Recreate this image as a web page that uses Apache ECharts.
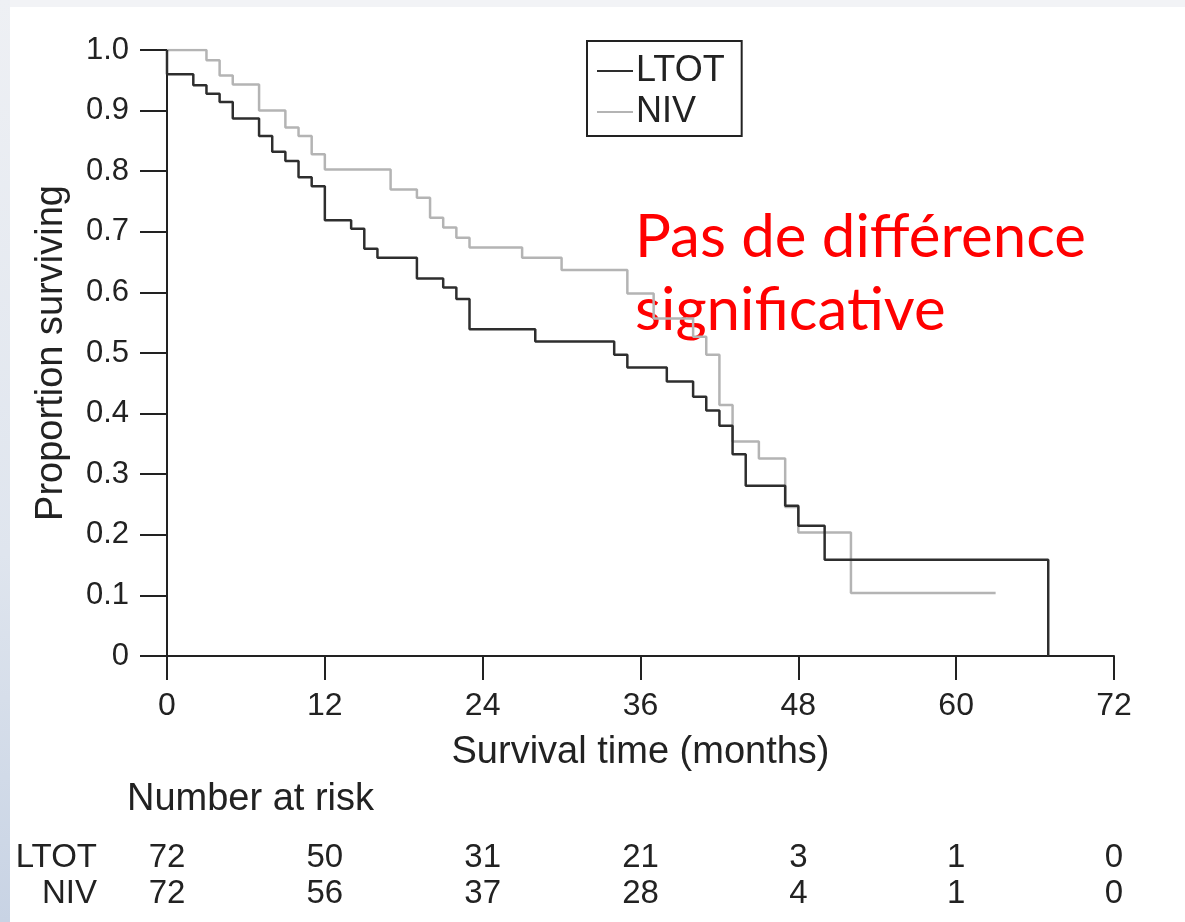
<!DOCTYPE html>
<html>
<head>
<meta charset="utf-8">
<script src="https://cdn.jsdelivr.net/npm/echarts@6/dist/echarts.min.js"></script>
<style>
  html, body { margin: 0; padding: 0; background: #fff; }
  #frameTop { position: absolute; left: 0; top: 0; width: 1185px; height: 7px; background: #f2f3f6; }
  #frameLeft { position: absolute; left: 0; top: 0; width: 10px; height: 922px;
    background: linear-gradient(#eef0f4, #dfe5ee 60%, #c8d3e4); }
  #chart { position: absolute; left: 0; top: 0; width: 1185px; height: 922px; }
</style>
</head>
<body>
<div id="frameTop"></div>
<div id="frameLeft"></div>
<div id="chart"></div>
<script>
// Kaplan-Meier steps: [month, proportion surviving]
var ltotSteps = [
  [0, 1.0], [0, 0.96], [2, 0.942], [3, 0.928], [4, 0.914], [5, 0.887], [7, 0.858],
  [8, 0.832], [9, 0.817], [10, 0.790], [11, 0.775], [12, 0.719], [14, 0.705],
  [15, 0.672], [16, 0.657], [19, 0.623], [21, 0.608], [22, 0.589], [23, 0.539],
  [28, 0.519], [34, 0.497], [35, 0.476], [38, 0.453], [40, 0.428], [41, 0.405],
  [42, 0.380], [43, 0.333], [44, 0.281], [47, 0.248], [48, 0.215], [50, 0.159],
  [67, 0.159], [67, 0]
];
var nivSteps = [
  [0, 1.0], [3, 0.983], [4, 0.958], [5, 0.943], [7, 0.900], [9, 0.872], [10, 0.858],
  [11, 0.828], [12, 0.803], [17, 0.770], [19, 0.756], [20, 0.723], [21, 0.707],
  [22, 0.690], [23, 0.674], [27, 0.657], [30, 0.637], [35, 0.598], [37, 0.557],
  [40, 0.527], [41, 0.497], [42, 0.414], [43, 0.354], [45, 0.326], [47, 0.246],
  [48, 0.204], [52, 0.104], [63, 0.104]
];
var monthTicks = [0, 12, 24, 36, 48, 60, 72];
var riskLTOT = [72, 50, 31, 21, 3, 1, 0];
var riskNIV = [72, 56, 37, 28, 4, 1, 0];

var FONT = 'Liberation Sans, Arial, sans-serif';
var INK = '#222';

var chart = echarts.init(document.getElementById('chart'));

function riskAxis(gridIndex, values) {
  return {
    type: 'value', gridIndex: gridIndex, min: 0, max: 72, interval: 12,
    axisLine: { show: false }, axisTick: { show: false }, splitLine: { show: false },
    axisLabel: {
      margin: 0, verticalAlign: 'middle', color: INK, fontFamily: FONT, fontSize: 33,
      formatter: function (v) { return String(values[monthTicks.indexOf(v)]); }
    }
  };
}
function hiddenY(gridIndex) {
  return { type: 'value', gridIndex: gridIndex, show: false, min: 0, max: 1 };
}

var option = {
  animation: false,
  backgroundColor: 'transparent',
  grid: [
    { left: 167, right: 71, top: 50, bottom: 266 },
    { left: 167, right: 71, top: 858, height: 0 },
    { left: 167, right: 71, top: 894, height: 0 }
  ],
  legend: {
    orient: 'vertical', left: 587, top: 41,
    padding: [12, 17, 6, 10], itemGap: 5,
    borderColor: INK, borderWidth: 2,
    itemWidth: 36, itemHeight: 2, icon: 'rect',
    textStyle: { color: INK, fontFamily: FONT, fontSize: 36, lineHeight: 36, padding: [0, 0, 0, -2] },
    data: ['LTOT', 'NIV']
  },
  xAxis: [
    {
      type: 'value', gridIndex: 0, min: 0, max: 72, interval: 12,
      name: 'Survival time (months)', nameLocation: 'middle', nameGap: 78,
      nameTextStyle: { color: INK, fontFamily: FONT, fontSize: 38 },
      axisLine: { lineStyle: { color: INK, width: 2 } },
      axisTick: { length: 24, lineStyle: { color: INK, width: 2 } },
      axisLabel: { margin: 34, color: INK, fontFamily: FONT, fontSize: 32 },
      splitLine: { show: false }
    },
    riskAxis(1, riskLTOT),
    riskAxis(2, riskNIV)
  ],
  yAxis: [
    {
      type: 'value', gridIndex: 0, min: 0, max: 1, interval: 0.1,
      name: 'Proportion surviving', nameLocation: 'middle', nameGap: 96,
      nameTextStyle: { color: INK, fontFamily: FONT, fontSize: 38 },
      axisLine: { show: true, lineStyle: { color: INK, width: 2 } },
      axisTick: { show: true, length: 27, lineStyle: { color: INK, width: 2 } },
      axisLabel: {
        margin: 38, color: INK, fontFamily: FONT, fontSize: 31,
        formatter: function (v) { return v === 0 ? '0' : v.toFixed(1); }
      },
      splitLine: { show: false }
    },
    hiddenY(1),
    hiddenY(2)
  ],
  series: [
    {
      name: 'LTOT', type: 'line', step: 'end', showSymbol: false, symbol: 'none',
      data: ltotSteps, z: 3,
      itemStyle: { color: '#2e2e2e' },
      lineStyle: { color: '#2e2e2e', width: 2.5 }
    },
    {
      name: 'NIV', type: 'line', step: 'end', showSymbol: false, symbol: 'none',
      data: nivSteps, z: 2,
      itemStyle: { color: '#b4b4b4' },
      lineStyle: { color: '#b4b4b4', width: 2.5 }
    }
  ],
  graphic: [
    {
      type: 'text', left: 635, top: 201,
      style: {
        text: 'Pas de différence\nsignificative',
        fill: '#ff0000', font: '60px Lato, "Open Sans", sans-serif', lineHeight: 73
      }
    },
    {
      type: 'text', left: 127, top: 781,
      style: { text: 'Number at risk', fill: INK, font: '38px ' + FONT }
    },
    {
      type: 'text', right: 1185 - 97, top: 841,
      style: { text: 'LTOT', fill: INK, font: '33px ' + FONT }
    },
    {
      type: 'text', right: 1185 - 97, top: 877,
      style: { text: 'NIV', fill: INK, font: '33px ' + FONT }
    }
  ]
};
chart.setOption(option);
</script>
</body>
</html>
